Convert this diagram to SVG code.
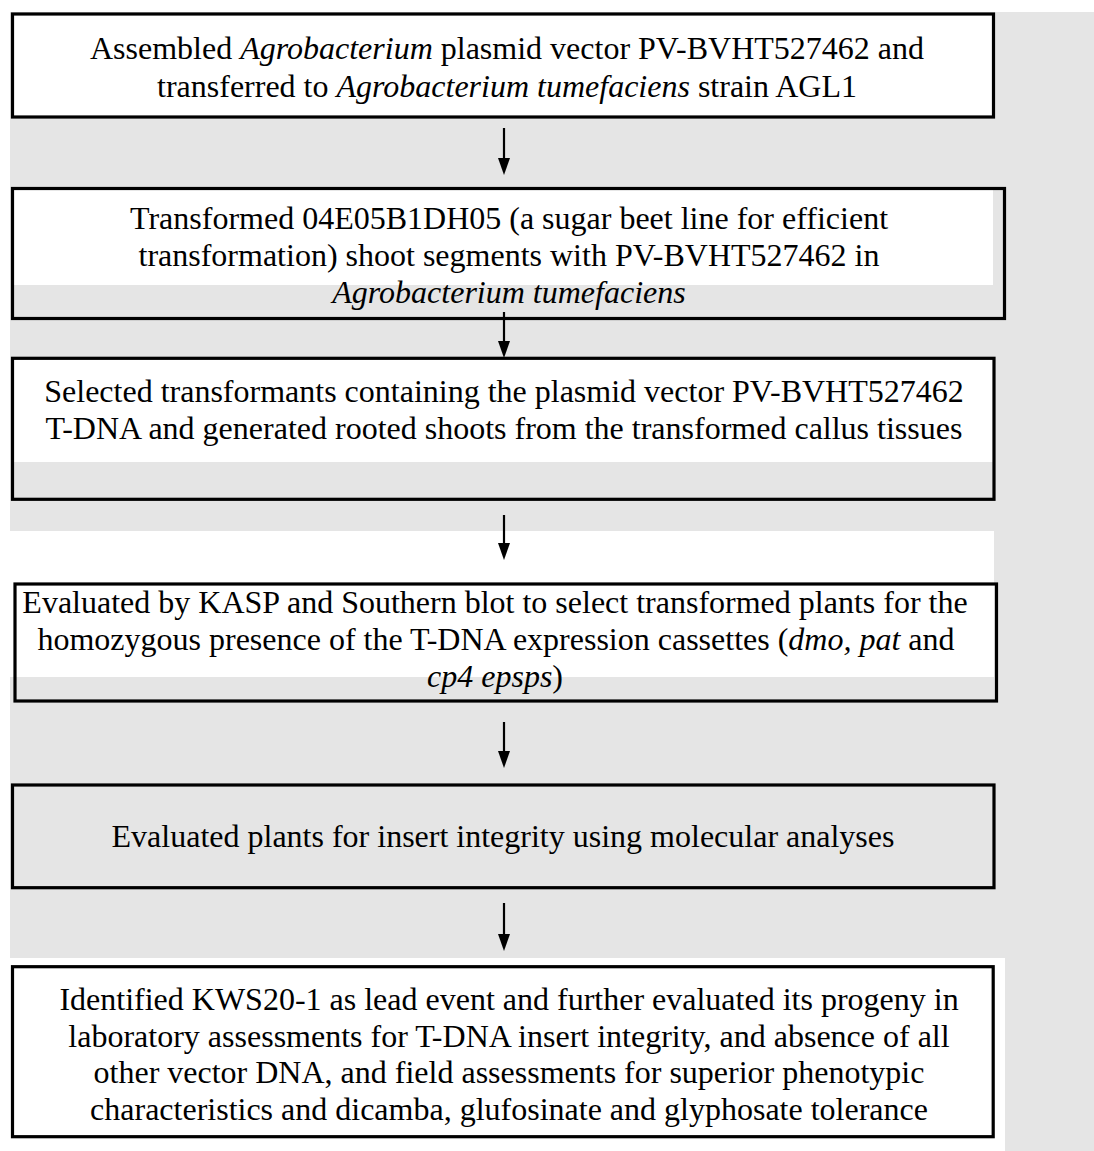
<svg xmlns="http://www.w3.org/2000/svg" width="1094" height="1151" viewBox="0 0 1094 1151">
  <defs>
    <style>
      .box { fill: none; stroke: #000; stroke-width: 3.2; }
      .lbl { font-family: "Liberation Serif", "Times New Roman", serif; font-size: 32px; fill: #000; text-anchor: middle; }
      .it { font-style: italic; }
      .wht { fill: #ffffff; }
      .conn { stroke: #000; stroke-width: 2.2; fill: none; }
    </style>
    <marker id="ah" viewBox="0 0 17 12" refX="7" refY="6" markerWidth="17" markerHeight="12" markerUnits="userSpaceOnUse" orient="auto">
      <path d="M0,0 L17,6 L0,12 Z" fill="#000"/>
    </marker>
  </defs>

  <!-- page background -->
  <rect x="0" y="0" width="1094" height="1151" fill="#ffffff"/>
  <rect x="10" y="12" width="1084" height="1139" fill="#e5e5e5"/>
  <rect class="wht" x="10" y="531" width="984" height="146"/>
  <rect class="wht" x="10" y="958" width="995" height="193"/>

  <g id="node1">
    <rect class="wht" x="12.5" y="14" width="981" height="103"/>
    <rect class="box" x="12.5" y="14" width="981" height="103"/>
    <text class="lbl" x="507" y="59">Assembled <tspan class="it">Agrobacterium</tspan> plasmid vector PV-BVHT527462 and</text>
    <text class="lbl" x="507" y="97">transferred to <tspan class="it">Agrobacterium tumefaciens</tspan> strain AGL1</text>
  </g>

  <g id="node2">
    <rect class="wht" x="14" y="190" width="979" height="95"/>
    <rect class="box" x="12.5" y="188.5" width="992" height="130"/>
    <text class="lbl" x="509" y="229">Transformed 04E05B1DH05 (a sugar beet line for efficient</text>
    <text class="lbl" x="509" y="266">transformation) shoot segments with PV-BVHT527462 in</text>
    <text class="lbl it" x="509" y="303">Agrobacterium tumefaciens</text>
  </g>

  <g id="node3">
    <rect class="wht" x="14" y="360" width="979" height="102"/>
    <rect class="box" x="12.5" y="358.3" width="981.5" height="141"/>
    <text class="lbl" x="504" y="402">Selected transformants containing the plasmid vector PV-BVHT527462</text>
    <text class="lbl" x="504" y="439">T-DNA and generated rooted shoots from the transformed callus tissues</text>
  </g>

  <g id="node4">
    <rect class="box" x="15" y="584" width="981.5" height="117"/>
    <text class="lbl" x="495" y="613">Evaluated by KASP and Southern blot to select transformed plants for the</text>
    <text class="lbl" x="496" y="650">homozygous presence of the T-DNA expression cassettes (<tspan class="it">dmo, pat</tspan> and</text>
    <text class="lbl" x="495" y="687"><tspan class="it">cp4 epsps</tspan>)</text>
  </g>

  <g id="node5">
    <rect class="box" x="12.5" y="785" width="981.5" height="102.7"/>
    <text class="lbl" x="503" y="847">Evaluated plants for insert integrity using molecular analyses</text>
  </g>

  <g id="node6">
    <rect class="box" x="12.5" y="966.7" width="980.7" height="170"/>
    <text class="lbl" x="509" y="1010">Identified KWS20-1 as lead event and further evaluated its progeny in</text>
    <text class="lbl" x="509" y="1047">laboratory assessments for T-DNA insert integrity, and absence of all</text>
    <text class="lbl" x="509" y="1083">other vector DNA, and field assessments for superior phenotypic</text>
    <text class="lbl" x="509" y="1120">characteristics and dicamba, glufosinate and glyphosate tolerance</text>
  </g>

  <g id="connectors">
    <line class="conn" x1="504" y1="128" x2="504" y2="165" marker-end="url(#ah)"/>
    <line class="conn" x1="504" y1="312" x2="504" y2="348" marker-end="url(#ah)"/>
    <line class="conn" x1="504" y1="515" x2="504" y2="550" marker-end="url(#ah)"/>
    <line class="conn" x1="504" y1="722" x2="504" y2="758" marker-end="url(#ah)"/>
    <line class="conn" x1="504" y1="903" x2="504" y2="941" marker-end="url(#ah)"/>
  </g>
</svg>
